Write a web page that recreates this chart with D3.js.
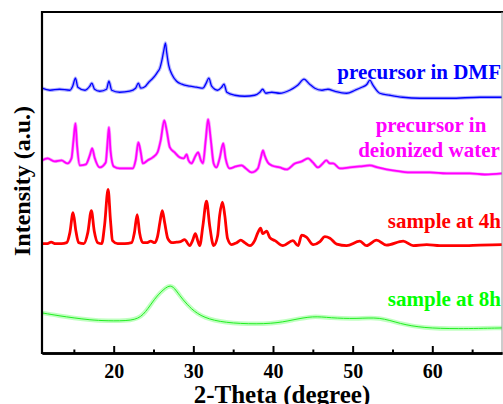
<!DOCTYPE html>
<html>
<head>
<meta charset="utf-8">
<script src="https://cdn.jsdelivr.net/npm/d3@7"></script>
<style>
  body { margin: 0; background: #fff; }
  svg text { font-family: "Liberation Serif", "Times New Roman", serif; font-weight: bold; }
</style>
</head>
<body>
<div id="chart"></div>
<script>
// 2-Theta (degree) vs stacked intensity (a.u.)
var blueDMF = [
  [11.0,264],[12.0,262],[13.2,263],[14.5,262],[14.85,266],[15.2,274],[15.5,265],[16.4,262],[17.0,266],[17.25,269],
  [17.6,263],[18.25,261],[19.1,263],[19.4,271],[19.75,262],[20.75,260],[22.0,261],[22.75,264],[23.1,269],[23.4,264],
  [24.0,266],[24.4,270],[24.8,273],[25.15,276],[25.5,280],[25.8,284],[26.0,290],[26.3,302],[26.5,309],[26.65,300],
  [26.9,287],[27.3,278],[27.9,271],[28.55,268],[29.55,266],[30.4,265],[31.2,264],[31.55,268],[31.95,274],[32.3,266],
  [33.05,262],[33.55,265],[33.85,268],[34.2,260],[35.2,257],[36.45,256],[37.7,257],[38.35,260],[38.7,263],[39.1,259],
  [39.85,260],[40.85,259],[42.1,262],[43.1,267],[43.9,273],[44.6,268],[45.25,264],[46.15,262],[46.9,263],[47.75,261],
  [49.25,259],[50.3,262],[51.15,265],[51.8,268],[52.15,272],[52.55,267],[53.4,259],[54.7,257],[56.3,255],[58.45,254],
  [62.2,254],[66.0,255],[68.75,255]
];

var magentaWater = [
  [11.0,192],[11.7,194],[12.6,191],[13.45,192],[14.2,189],[14.7,194],[14.95,212],[15.2,229],[15.4,207],[15.75,187],
  [16.5,188],[17.0,197],[17.3,204],[17.6,195],[18.25,185],[19.0,190],[19.2,207],[19.4,225],[19.6,202],[20.0,186],
  [20.75,184],[21.65,184],[22.4,184],[22.75,192],[23.1,210],[23.4,200],[23.65,189],[24.25,192],[24.9,195],[25.5,200],
  [25.9,212],[26.35,232],[26.65,222],[27.05,205],[27.65,200],[28.3,195],[28.8,194],[29.15,198],[29.4,192],[29.75,189],
  [30.3,197],[30.6,200],[30.95,192],[31.2,189],[31.55,212],[31.85,233],[32.2,212],[32.55,189],[32.9,185],[33.3,194],
  [33.75,209],[34.05,194],[34.55,184],[35.35,186],[36.05,187],[36.6,184],[37.3,180],[38.1,184],[38.45,194],[38.75,202],
  [38.95,197],[39.35,190],[39.85,187],[40.85,185],[41.7,183],[42.75,189],[43.6,191],[44.4,194],[45.0,190],[45.65,185],
  [46.25,189],[46.7,192],[47.15,189],[47.55,189],[48.4,184],[49.65,185],[50.9,186],[52.15,187],[53.15,185],[54.25,183],
  [55.95,181],[57.55,180],[59.7,180],[61.8,179],[64.7,179],[66.6,178],[68.75,179]
];

var red4h = [
  [11.0,109],[11.6,109],[12.15,110.5],[12.7,109],[13.45,109],[14.1,110],[14.5,120],[14.9,140],[15.25,122],[15.6,110],
  [16.25,109],[16.75,120],[17.2,142],[17.55,122],[18.0,110],[18.5,109],[18.85,127],[19.3,163],[19.6,132],[19.85,112],
  [20.5,109],[21.4,109],[22.25,110],[22.6,120],[22.95,138],[23.25,120],[23.65,110],[24.15,110],[24.65,111.5],[25.15,110],
  [25.5,116],[25.8,130],[26.1,142],[26.4,130],[26.8,114],[27.3,110],[27.9,110.5],[28.4,111],[28.9,113],[29.55,107],
  [29.9,112],[30.25,119],[30.55,112],[30.8,107],[31.2,127],[31.65,151.5],[32.05,127],[32.55,107],[33.05,117],[33.3,137],
  [33.65,150.5],[33.95,137],[34.3,114],[34.8,108],[35.45,110],[35.95,112.5],[36.45,110],[37.1,107],[37.7,112],[38.1,120],
  [38.45,124.5],[38.7,119],[39.2,121.5],[39.6,115],[40.25,112],[41.25,107],[42.5,112],[43.15,107],[43.6,117.5],[44.2,115.5],
  [45.05,108],[45.9,111],[46.5,116],[47.15,114.5],[48.0,108.5],[49.25,107],[50.9,111.5],[51.75,107],[53.0,112.5],[54.25,107.5],
  [56.35,111.5],[57.6,107],[59.3,108],[60.95,107],[63.45,107],[66.0,107.5],[68.75,108]
];

var green8h = [
  [11.0,40],[13.2,37],[15.0,35],[17.0,33],[19.1,32],[22.4,32],[23.7,37],[24.95,52],[25.8,60],[26.8,67],
  [27.45,67],[28.3,57],[29.15,49],[30.4,39],[32.45,32],[35.8,29],[40.0,29],[42.5,33],[45.05,37],[47.15,35],
  [50.5,34],[53.4,36],[55.95,29],[58.85,25],[63.05,24],[68.75,25]
];

var majorTicks = [20, 30, 40, 50, 60];
var minorTicks = [15, 25, 35, 45, 55, 65];

const svgWidth = 503;
const svgHeight = 404;
const margin = { top: 12, right: 1, bottom: 51, left: 42 };

const svg = d3.select("#chart")
  .append("svg")
  .attr("width", svgWidth)
  .attr("height", svgHeight);

const x = d3.scaleLinear()
  .domain([11, 68.75])
  .range([margin.left, svgWidth - margin.right]);

const y = d3.scaleLinear()
  .domain([0, 340])
  .range([svgHeight - margin.bottom, margin.top]);

const line = d3.line()
  .x(d => x(d[0]))
  .y(d => y(d[1]))
  .curve(d3.curveMonotoneX);

// noisy traces get a pale band under them
svg.append("path").datum(blueDMF)
  .attr("fill", "none").attr("stroke", "#8080ff").attr("stroke-width", 3.5).attr("opacity", 0.6)
  .attr("d", line);
svg.append("path").datum(blueDMF)
  .attr("fill", "none").attr("stroke", "#0000ff").attr("stroke-width", 1.3)
  .attr("d", line);

svg.append("path").datum(magentaWater)
  .attr("fill", "none").attr("stroke", "#ff55ff").attr("stroke-width", 3.2).attr("opacity", 0.6)
  .attr("d", line);
svg.append("path").datum(magentaWater)
  .attr("fill", "none").attr("stroke", "#ff00ff").attr("stroke-width", 1.8)
  .attr("d", line);

svg.append("path").datum(red4h)
  .attr("fill", "none").attr("stroke", "#ff0000").attr("stroke-width", 2.8)
  .attr("stroke-linejoin", "round")
  .attr("d", line);

svg.append("path").datum(green8h)
  .attr("fill", "none").attr("stroke", "#8cff8c").attr("stroke-width", 4.5).attr("opacity", 0.55)
  .attr("d", line.curve(d3.curveBasis));
svg.append("path").datum(green8h)
  .attr("fill", "none").attr("stroke", "#22ee22").attr("stroke-width", 1)
  .attr("d", line);

// frame
const bottom = svgHeight - margin.bottom;
svg.append("line").attr("x1", margin.left).attr("x2", svgWidth).attr("y1", margin.top).attr("y2", margin.top)
  .attr("stroke", "#000").attr("stroke-width", 2.2);
svg.append("line").attr("x1", margin.left).attr("x2", margin.left).attr("y1", margin.top - 1).attr("y2", bottom + 1)
  .attr("stroke", "#000").attr("stroke-width", 2.2);
svg.append("line").attr("x1", svgWidth - margin.right).attr("x2", svgWidth - margin.right).attr("y1", margin.top).attr("y2", bottom)
  .attr("stroke", "#999").attr("stroke-width", 1);

// x axis, ticks pointing inward
const axisMajor = svg.append("g")
  .attr("transform", `translate(0, ${bottom})`)
  .call(d3.axisBottom(x).tickValues(majorTicks).tickSize(-7).tickPadding(11).tickSizeOuter(0));
const axisMinor = svg.append("g")
  .attr("transform", `translate(0, ${bottom})`)
  .call(d3.axisBottom(x).tickValues(minorTicks).tickSize(-3.5).tickFormat("").tickSizeOuter(0));

[axisMajor, axisMinor].forEach(g => {
  g.select(".domain").attr("stroke", "#000").attr("stroke-width", 2.5);
  g.selectAll(".tick line").attr("stroke", "#000").attr("stroke-width", 2);
});
axisMajor.selectAll(".tick text")
  .attr("fill", "#000")
  .style("font-size", "20px");

// axis titles (the bottom one sits on the picture's lower edge, as in the original)
svg.append("text")
  .attr("x", 282).attr("y", 403)
  .attr("text-anchor", "middle")
  .style("font-size", "25px")
  .text("2-Theta (degree)");

svg.append("text")
  .attr("transform", "translate(30, 181) rotate(-90)")
  .attr("text-anchor", "middle")
  .style("font-size", "24px")
  .text("Intensity (a.u.)");

// series labels
const labels = [
  { text: "precursor in DMF", x: 501, y: 79, anchor: "end", color: "#0000ff" },
  { text: "precursor in", x: 431, y: 132, anchor: "middle", color: "#ff00ff" },
  { text: "deionized water", x: 429, y: 157, anchor: "middle", color: "#ff00ff" },
  { text: "sample at 4h", x: 501, y: 228, anchor: "end", color: "#ff0000" },
  { text: "sample at 8h", x: 501, y: 306, anchor: "end", color: "#00ff00" }
];

svg.selectAll(".label")
  .data(labels)
  .enter().append("text")
  .attr("class", "label")
  .attr("x", d => d.x)
  .attr("y", d => d.y)
  .attr("text-anchor", d => d.anchor)
  .attr("fill", d => d.color)
  .style("font-size", "21px")
  .text(d => d.text);
</script>
</body>
</html>
